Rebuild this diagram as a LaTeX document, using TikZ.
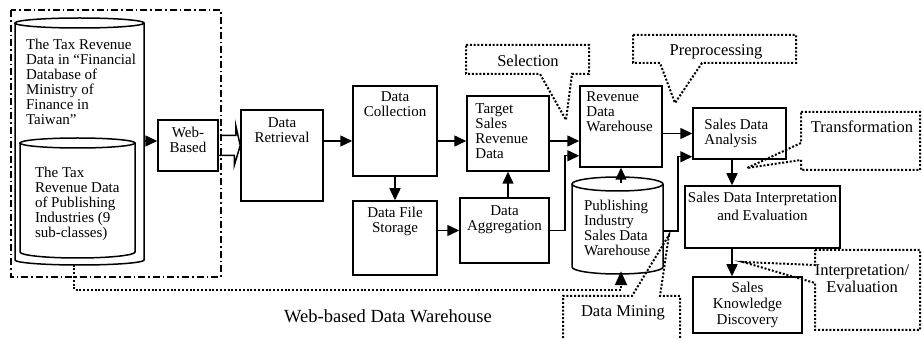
\documentclass[tikz,border=0pt]{standalone}
\usepackage{fontspec}
\setmainfont{Liberation Serif}
\usetikzlibrary{arrows.meta,positioning,calc}

\newcommand{\blockfont}{\fontsize{15}{15}\selectfont}
\newcommand{\calloutfont}{\fontsize{16.5}{17}\selectfont}

\tikzset{
  box/.style={draw, line width=1.5pt, inner sep=0pt},
  txt/.style={font=\blockfont, align=center, inner sep=0pt},
  ltxt/.style={font=\blockfont, align=left, inner sep=0pt},
  tag/.style={font=\calloutfont, align=center, inner sep=0pt},
  flow/.style={line width=1.5pt, -{Triangle[length=12pt,width=11pt]}},
  dots/.style={line width=2pt, dash pattern=on 2pt off 1.8pt},
  dashdot/.style={line width=1.4pt, dash pattern=on 7pt off 3pt on 1.6pt off 3pt},
  cyl/.style={line width=1.5pt}
}

\begin{document}
\begin{tikzpicture}[x=1pt,y=-1pt]
\useasboundingbox (0,0) rectangle (922,339);
\coordinate (row) at (0,141);
\coordinate (col) at (732,0);

% web-based data warehouse
\draw[dashdot] (11,10) rectangle (221,277);
\node[inner sep=0pt, minimum width=129pt, minimum height=247pt] (outer) at (79.5,141) {};
\draw[cyl] (15,23) -- (15,260) arc[start angle=180, end angle=360, x radius=64.5pt, y radius=5pt] -- (144,23);
\draw[cyl] (79.5,23) ellipse [x radius=64.5pt, y radius=5pt];
\node[ltxt, below right=22pt and 11pt of outer.north west] (outerT)
  {The Tax Revenue\\Data in “Financial\\Database of\\Ministry of\\Finance in\\Taiwan”};

\node[inner sep=0pt, minimum width=115pt, minimum height=120pt] (inner) at (77.5,198) {};
\draw[cyl] (20,143) -- (20,252) arc[start angle=180, end angle=360, x radius=57.5pt, y radius=6pt] -- (135,143);
\draw[cyl] (77.5,143) ellipse [x radius=57.5pt, y radius=5pt];
\node[ltxt, below right=29pt and 15pt of inner.north west] (innerT)
  {The Tax\\Revenue Data\\of Publishing\\Industries (9\\sub-classes)};

\node[box, minimum width=60pt, minimum height=51pt] (web) at (188,145.5) {};
\node[txt, below=8pt of web.north] (webT) {Web-\\Based};

\node[font=\fontsize{18.5}{20}\selectfont, inner sep=0pt] (wbdw) at (388,316) {Web-based Data Warehouse};

% process boxes
\node[box, minimum width=82pt, minimum height=91pt] (retr) at (282,155.5) {};
\node[txt, below=8pt of retr.north] (retrT) {Data\\Retrieval};

\node[box, minimum width=84pt, minimum height=90pt] (coll) at (395,131) {};
\node[txt, below=6pt of coll.north] (collT) {Data\\Collection};

\node[box, minimum width=84pt, minimum height=74pt] (store) at (395,238) {};
\node[txt, below=7pt of store.north] (storeT) {Data File\\Storage};

\node[box, minimum width=82pt, minimum height=75pt] (tgt) at (508,133.5) {};
\node[ltxt, below right=8pt and 9pt of tgt.north west] (tgtT) {Target\\Sales\\Revenue\\Data};

\node[box, minimum width=89pt, minimum height=65pt] (agg) at (504.5,230.5) {};
\node[txt, below=8pt of agg.north] (aggT) {Data\\Aggregation};

\node[box, minimum width=82pt, minimum height=81pt] (rev) at (621,126.5) {};
\node[ltxt, below right=6pt and 7pt of rev.north west] (revT) {Revenue\\Data\\Warehouse};

\node[inner sep=0pt, minimum width=91pt, minimum height=97pt] (pub) at (617.5,225.5) {};
\draw[cyl] (572,184) -- (572,267) arc[start angle=180, end angle=360, x radius=45.5pt, y radius=7pt] -- (663,184);
\draw[cyl] (617.5,184) ellipse [x radius=45.5pt, y radius=7pt];
\node[ltxt, below right=23pt and 12pt of pub.north west] (pubT) {Publishing\\Industry\\Sales Data\\Warehouse};

\node[box, minimum width=93pt, minimum height=51pt] (sda) at (739.5,133.5) {};
\node[ltxt, below right=12pt and 12pt of sda.north west] (sdaT) {Sales Data\\Analysis};

\node[box, minimum width=155pt, minimum height=62pt] (interp) at (762.5,217) {};
\node[txt, below=7pt of interp.north] (interpT) {Sales Data Interpretation\\[3pt]and Evaluation};

\node[box, minimum width=109pt, minimum height=56pt] (skd) at (747.5,305) {};
\node[txt, below=6pt of skd.north] (skdT) {Sales\\[1pt]Knowledge\\[1pt]Discovery};

% connectors
\draw[flow] (outer.east |- row) -- (web.west |- row);
\draw[line width=1.5pt] ($(web.east)+(1,-10)$) -- ++(16,0) -- ++(0,-10)
  -- (retr.west |- web.east) -- ++(-6,20) -- ++(0,-10) -- ++(-16,0);
\draw[flow] (retr.east |- row) -- (coll.west |- row);
\draw[flow] (coll.east |- row) -- (tgt.west |- row);
\draw[flow] (tgt.east |- row) -- (rev.west |- row);
\draw[flow] (coll.south) -- (store.north);
\draw[flow] (store.east |- agg.west) -- (agg.west);
\draw[flow] (tgt.south |- agg.north) -- (tgt.south);
\draw[flow] (agg.east) -- ++(15,0) |- ($(rev.south west)+(0,-12)$);
\draw[flow] ($(rev.south |- pub.north)+(0,6)$) -- (rev.south);
\draw[flow] (rev.east |- sda.west) -- (sda.west);
\draw[flow] ($(pub.east)+(0,5.5)$) -- ++(15,0) |- ($(sda.south west)+(0,-3)$);
\draw[flow] (sda.south -| col) -- (interp.north -| col);
\draw[flow] (interp.south -| col) -- (skd.north -| col);
\draw[dots, -{Triangle[length=14pt,width=12pt]}] ($(outer.south)+(-5.5,0)$) -- ++(0,25) -| ($(rev.south |- pub.south)+(0,-3)$);

% callouts
\draw[dots] (466,45) -- (589,45) -- (589,74) -- (572,74) -- (566,120) -- (540,74) -- (466,74) -- cycle;
\node[tag] (selT) at (528,61) {Selection};
\draw[dots] (633,35) -- (796,35) -- (796,63) -- (702,63) -- (675,103) -- (660,63) -- (633,63) -- cycle;
\node[tag] (preT) at (716,52) {Preprocessing};
\draw[dots] (801,112) -- (920,112) -- (920,170) -- (801,170) -- (801,160) -- (747,168) -- (801,143) -- cycle;
\node[tag] (traT) at (862,127) {Transformation};
\draw[dots] (815,250) -- (920,250) -- (920,330) -- (815,330) -- (815,283) -- (743,262) -- (815,265) -- cycle;
\node[tag, anchor=north] (intT) at (862,264) {Interpretation/\\Evaluation};
\draw[dots] (563,342) -- (563,296) -- (632,296) -- (669,235) -- (660,296) -- (680,296) -- (680,342);
\node[tag] (minT) at (623,313) {Data Mining};
\end{tikzpicture}
\end{document}
